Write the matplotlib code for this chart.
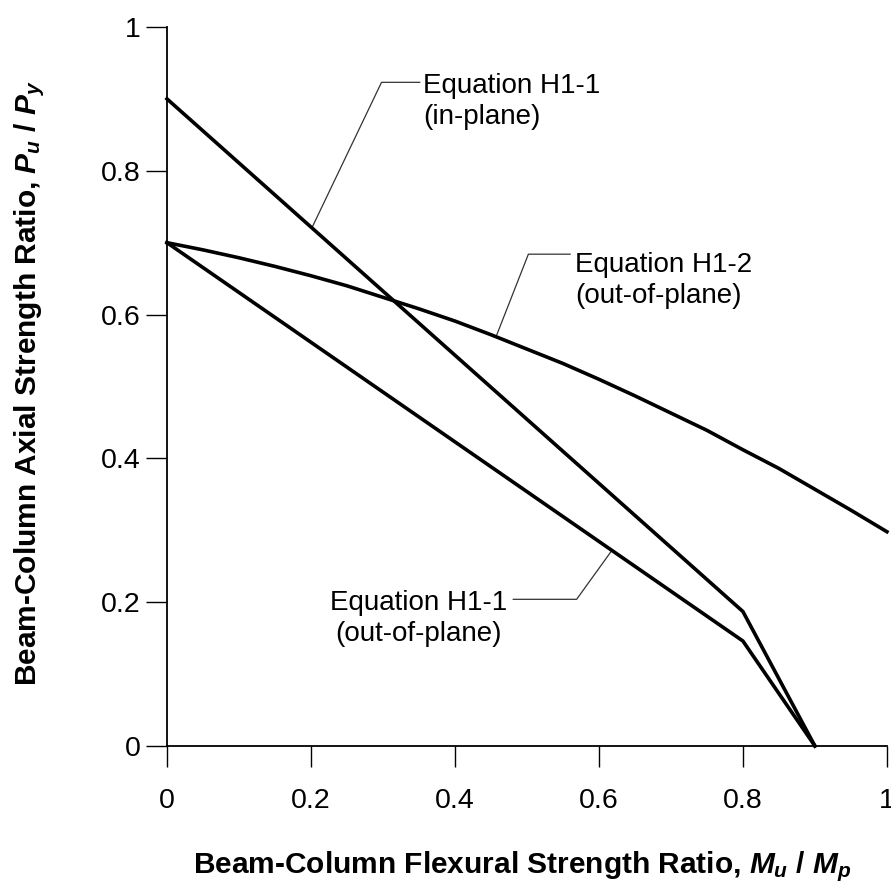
import matplotlib.pyplot as plt

plt.rcParams['font.family'] = ['Liberation Sans', 'DejaVu Sans']
plt.rcParams['mathtext.fontset'] = 'custom'
plt.rcParams['mathtext.it'] = 'Liberation Sans:bold:italic'
plt.rcParams['mathtext.rm'] = 'Liberation Sans:bold'

# H1-1 in-plane (bilinear)
inplane_m = [0.0, 0.8, 0.9]
inplane_p = [0.9, 0.187, 0.0]

# H1-1 out-of-plane (bilinear)
outplane_m = [0.0, 0.8, 0.9]
outplane_p = [0.7, 0.146, 0.0]

# H1-2 out-of-plane (curve)
h12_m = [0.0, 0.05, 0.1, 0.15, 0.2, 0.25, 0.3, 0.35, 0.4, 0.45, 0.5,
         0.55, 0.6, 0.65, 0.7, 0.75, 0.8, 0.85, 0.9, 0.95, 1.0]
h12_p = [0.700, 0.690, 0.679, 0.667, 0.654, 0.640, 0.624, 0.608, 0.591, 0.572, 0.552,
         0.532, 0.510, 0.487, 0.463, 0.439, 0.412, 0.386, 0.357, 0.328, 0.298]

ticks = [0, 0.2, 0.4, 0.6, 0.8, 1]
tick_labels = ['0', '0.2', '0.4', '0.6', '0.8', '1']

# callout labels: text, position, leader polyline
labels = ['Equation H1-1\n(in-plane)',
          'Equation H1-2\n(out-of-plane)',
          'Equation H1-1\n(out-of-plane)']
label_xy = [(0.356, 0.897), (0.567, 0.647), (0.350, 0.178)]
label_ha = ['left', 'left', 'center']
leader_m = [[0.351, 0.298, 0.201],
            [0.560, 0.502, 0.457],
            [0.481, 0.569, 0.618]]
leader_p = [[0.923, 0.923, 0.720],
            [0.684, 0.684, 0.569],
            [0.204, 0.204, 0.272]]

fig = plt.figure(figsize=(8.91, 8.90), dpi=100)
ax = fig.add_axes([0.1874, 0.1618, 0.808, 0.8079])

for xs, ys in [(inplane_m, inplane_p), (outplane_m, outplane_p), (h12_m, h12_p)]:
    ax.plot(xs, ys, color='black', lw=2.6, solid_joinstyle='miter', clip_on=False, zorder=3)

for lx, ly in zip(leader_m, leader_p):
    ax.plot(lx, ly, color='#333333', lw=0.9, clip_on=False, zorder=2)

for txt, (tx, ty), ha in zip(labels, label_xy, label_ha):
    ax.text(tx, ty, txt, fontsize=20, ha=ha, va='center', multialignment=ha,
            linespacing=1.25)

ax.set_xlim(0, 1)
ax.set_ylim(0, 1)
ax.set_xticks(ticks)
ax.set_xticklabels(tick_labels)
ax.set_yticks(ticks)
ax.set_yticklabels(tick_labels)
ax.spines['top'].set_visible(False)
ax.spines['right'].set_visible(False)
for s in ['left', 'bottom']:
    ax.spines[s].set_linewidth(1.3)
ax.tick_params(axis='both', direction='out', length=15, width=1, labelsize=20.5)
ax.tick_params(axis='x', pad=15)
ax.tick_params(axis='y', pad=4)

ax.set_xlabel(r'Beam-Column Flexural Strength Ratio, $M_u$ / $M_p$',
              fontsize=21.5, fontweight='bold', va='center')
ax.xaxis.set_label_coords(0.493, -0.168)
ax.set_ylabel(r'Beam-Column Axial Strength Ratio, $P_u$ / $P_y$',
              fontsize=21.5, fontweight='bold', va='center')
ax.yaxis.set_label_coords(-0.19, 0.505)

fig.savefig('out.png', dpi=100)
